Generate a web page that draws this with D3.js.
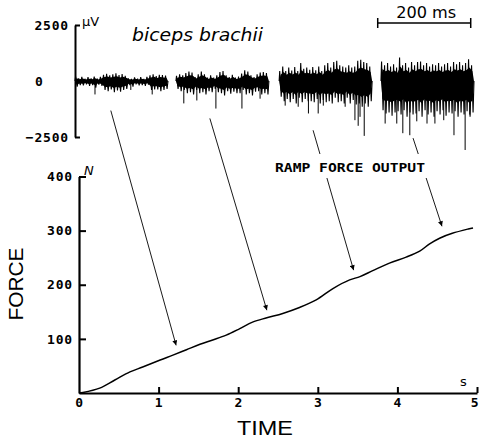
<!DOCTYPE html>
<html><head><meta charset="utf-8">
<script src="https://cdn.jsdelivr.net/npm/d3@7/dist/d3.min.js"></script>
<style>
html,body{margin:0;padding:0;background:#fff;}
svg{display:block;}
.tick text{font-family:"DejaVu Sans Mono",monospace;font-weight:bold;font-size:13px;letter-spacing:0.8px;fill:#000;}
</style></head>
<body>
<svg id="c" width="479" height="441"></svg>
<script>
// ---------------- DATA ----------------
// Force ramp (time in s, force in N)
const forceTime  = [0, 0.05, 0.26, 0.45, 0.64, 0.80, 1.02, 1.18, 1.35, 1.52, 1.68, 1.85, 2.02, 2.18, 2.36, 2.56, 2.77, 2.98, 3.19, 3.40, 3.53, 3.69, 3.90, 4.11, 4.28, 4.40, 4.53, 4.69, 4.89, 4.95];
const forceValue = [0, 1, 9, 24, 39, 48, 61, 70, 80, 90, 98, 107, 119, 131, 139, 147, 158, 172, 193, 209, 215, 226, 240, 251, 262, 275, 286, 295, 303, 305];
const forceTicksY = [100, 200, 300, 400];
const timeTicks = [0, 1, 2, 3, 4, 5];
const emgTicks = [-2500, 0, 2500];

// EMG segments (200 ms each): start in display ms, peak envelope per bin (µV), plus isolated spikes (ms in segment, µV)
const emgSegStart = [0, 217, 439, 658];
const emgSeg1Hi = [200,120,180,100,170,120,200,110,180,280,320,250,300,340,260,310,230,120,100,160,110,170,100,180,250,300,220,280,260,240];
const emgSeg1Lo = [-250,-180,-200,-150,-220,-180,-300,-160,-220,-400,-450,-380,-500,-420,-480,-400,-350,-180,-250,-150,-200,-180,-220,-160,-400,-380,-380,-450,-400,-350];
const emgSeg1SpikeMs = [43, 120, 166];
const emgSeg1SpikeUv = [-600, -400, -600];
const emgSeg2Hi = [230,300,250,350,420,380,180,300,420,300,150,250,150,250,400,450,250,180,280,150,200,330,480,420,250,180,300,380,400,350];
const emgSeg2Lo = [-350,-450,-400,-550,-500,-600,-400,-550,-500,-600,-450,-500,-350,-500,-550,-650,-450,-570,-480,-550,-550,-400,-600,-550,-650,-480,-450,-600,-550,-600];
const emgSeg2SpikeMs = [17, 45, 86, 142, 181];
const emgSeg2SpikeUv = [-1000, -870, -1230, -1230, -790];
const emgSeg3Hi = [450,650,450,600,470,620,450,800,550,600,500,620,480,650,450,700,800,600,850,900,700,650,600,700,600,650,900,950,850,800,650];
const emgSeg3Lo = [-700,-900,-800,-950,-800,-1000,-750,-950,-800,-900,-900,-950,-800,-1000,-850,-950,-900,-1000,-750,-950,-900,-1000,-750,-1000,-850,-1050,-1000,-1150,-1000,-1150,-900];
const emgSeg3SpikeMs = [13, 41, 63, 84, 95, 142, 163, 170, 174, 183];
const emgSeg3SpikeUv = [-1100, -1150, -1450, -1450, -1100, -1150, -1750, -2000, -1600, -2450];
const emgSeg4Hi = [870,700,800,650,750,600,1050,700,800,600,850,700,850,870,700,800,650,750,700,800,650,750,800,650,850,750,850,700,800,970,700];
const emgSeg4Lo = [-1300,-1450,-1400,-1550,-1400,-1350,-1500,-1300,-1600,-1400,-1500,-1450,-1350,-1600,-1300,-1500,-1400,-1600,-1350,-1500,-1300,-1550,-1400,-1450,-1350,-1600,-1400,-1500,-1350,-1600,-1400];
const emgSeg4SpikeMs = [9, 34, 47, 62, 77, 99, 116, 135, 157, 181, 191];
const emgSeg4SpikeUv = [-1900, -1900, -2330, -2420, -1800, -1900, -1900, -1750, -2420, -3080, -1500];
const emgSegments = [
  [emgSeg1Hi, emgSeg1Lo, emgSeg1SpikeMs, emgSeg1SpikeUv],
  [emgSeg2Hi, emgSeg2Lo, emgSeg2SpikeMs, emgSeg2SpikeUv],
  [emgSeg3Hi, emgSeg3Lo, emgSeg3SpikeMs, emgSeg3SpikeUv],
  [emgSeg4Hi, emgSeg4Lo, emgSeg4SpikeMs, emgSeg4SpikeUv]];
const scaleBarMs = [651, 851];

// Arrow annotations: start on EMG (display ms, µV), end on force plot (s, N)
const arrowStartMs = [77, 290, 512, 727];
const arrowStartUv = [-1320, -1670, -2200, -2550];
const arrowEndT = [1.22, 2.36, 3.45, 4.56];
const arrowEndF = [88, 153, 227, 308];

// ---------------- DRAW ----------------
const svg = d3.select("#c");
const x = d3.scaleLinear().domain([0, 5]).range([79, 477]);
const y = d3.scaleLinear().domain([0, 400]).range([393, 176.5]);
const ex = d3.scaleLinear().domain([0, 860]).range([75, 75 + 860 * 0.465]);
const ey = d3.scaleLinear().domain([-2500, 2500]).range([137, 25]);
// inner (dense) band of the trace is drawn on a compressed copy of the EMG scale
const eyCore = d3.scaleLinear().domain([-2500, 2500]).range([ey(-2500 * 0.62), ey(2500 * 0.62)]);

svg.append("defs").append("marker")
  .attr("id","ah").attr("viewBox","0 0 10 10").attr("refX",10).attr("refY",5)
  .attr("markerWidth",7).attr("markerHeight",5).attr("markerUnits","userSpaceOnUse")
  .attr("orient","auto")
  .append("path").attr("d","M0,0L10,5L0,10Z").attr("fill","#000");

// EMG traces
emgSegments.forEach(([hi, lo, spMs, spUv], s) => {
  const n = hi.length, w = 200 / n, st = emgSegStart[s];
  const pts = hi.map((h, i) => ({t: st + (i + 0.5) * w, h, l: lo[i]}));
  pts.unshift({t: st, h: 0, l: 0});
  pts.push({t: st + 200, h: 0, l: 0});
  svg.append("path")
    .attr("d", d3.area().x(d => ex(d.t)).y0(d => eyCore(d.l)).y1(d => eyCore(d.h))(pts))
    .attr("fill","#000");
  const zz = [[st, 0]];
  hi.forEach((h, i) => { zz.push([st + i * w + w * 0.2, h]); zz.push([st + i * w + w * 0.7, lo[i]]); });
  zz.push([st + 200, 0]);
  svg.append("path")
    .attr("d", d3.line().x(d => ex(d[0])).y(d => ey(d[1]))(zz))
    .attr("fill","none").attr("stroke","#000").attr("stroke-width",1.1);
  spMs.forEach((m, i) => {
    svg.append("line").attr("x1", ex(st + m)).attr("x2", ex(st + m))
      .attr("y1", ey(0)).attr("y2", ey(spUv[i]))
      .attr("stroke","#000").attr("stroke-width",1);
  });
});

// EMG axis
const ga = svg.append("g").attr("transform",`translate(${ex(0)},0)`)
  .call(d3.axisLeft(ey).tickValues(emgTicks).tickSize(-5).tickSizeOuter(0).tickPadding(6)
    .tickFormat(d3.format("d")));
ga.select(".domain").attr("stroke-width",2);
ga.selectAll(".tick line").attr("stroke-width",2);
ga.selectAll(".tick").filter(d => d === 0).select("text").attr("text-anchor","start").attr("x",-40);
ga.selectAll(".tick").filter(d => d === 0).select("line").remove();
svg.append("text").attr("x",82).attr("y",26).attr("font-family","DejaVu Sans").attr("font-size",13).text("μV");

// Title
svg.append("text").attr("x",132).attr("y",41).attr("font-family","DejaVu Sans").attr("font-style","italic")
  .attr("font-size",17).attr("textLength",131).attr("lengthAdjust","spacingAndGlyphs").text("biceps brachii");

// Scale bar
const sb = svg.append("g").attr("stroke","#000").attr("stroke-width",1.5);
sb.append("line").attr("x1",ex(scaleBarMs[0])).attr("x2",ex(scaleBarMs[1])).attr("y1",23).attr("y2",23);
scaleBarMs.forEach(m => sb.append("line").attr("x1",ex(m)).attr("x2",ex(m)).attr("y1",18).attr("y2",28));
svg.append("text").attr("x",(ex(scaleBarMs[0])+ex(scaleBarMs[1]))/2+2).attr("y",18).attr("text-anchor","middle")
  .attr("font-family","DejaVu Sans").attr("font-size",16).attr("textLength",60).attr("lengthAdjust","spacingAndGlyphs").text("200 ms");

// Arrows
arrowStartMs.forEach((m, i) => {
  svg.append("line").attr("x1",ex(m)).attr("y1",ey(arrowStartUv[i]))
    .attr("x2",x(arrowEndT[i])).attr("y2",y(arrowEndF[i]))
    .attr("stroke","#000").attr("stroke-width",0.9).attr("marker-end","url(#ah)");
});

// Annotation label with blank background
svg.append("rect").attr("x",270).attr("y",154).attr("width",162).attr("height",24).attr("fill","#fff");
svg.append("text").attr("x",275).attr("y",172).attr("font-family","DejaVu Sans Mono").attr("font-weight","bold")
  .attr("font-size",12).attr("textLength",150).attr("lengthAdjust","spacingAndGlyphs").text("RAMP FORCE OUTPUT");

// Force curve
svg.append("path")
  .attr("d", d3.line().x((d,i) => x(forceTime[i])).y((d,i) => y(forceValue[i])).curve(d3.curveCatmullRom)(forceValue))
  .attr("fill","none").attr("stroke","#000").attr("stroke-width",1.5);

// Force axes
const gy = svg.append("g").attr("transform",`translate(${x(0)},0)`)
  .call(d3.axisLeft(y).tickValues(forceTicksY).tickSize(-7).tickSizeOuter(0).tickPadding(6).tickFormat(d3.format("d")));
gy.select(".domain").attr("stroke-width",2.2);
gy.selectAll(".tick line").attr("stroke-width",2);
const gx = svg.append("g").attr("transform",`translate(0,${y(0)})`)
  .call(d3.axisBottom(x).tickValues(timeTicks).tickSize(-6).tickSizeOuter(0).tickPadding(5).tickFormat(d3.format("d")));
gx.select(".domain").attr("stroke-width",2.2);
gx.selectAll(".tick line").attr("stroke-width",2);
gx.selectAll(".tick").filter(d => d === 0).select("line").remove();
gx.selectAll(".tick").filter(d => d === 5).select("text").attr("text-anchor","end").attr("x",2);

svg.append("text").attr("x",84).attr("y",175).attr("font-family","DejaVu Sans").attr("font-style","italic").attr("font-size",13).text("N");
svg.append("text").attr("x",460).attr("y",386).attr("font-family","DejaVu Sans").attr("font-size",13).text("s");

// Axis titles
svg.append("text").attr("transform","translate(23,284) rotate(-90)").attr("text-anchor","middle")
  .attr("font-family","Liberation Sans").attr("font-size",21).attr("textLength",73).attr("lengthAdjust","spacingAndGlyphs").text("FORCE");
svg.append("text").attr("x",265).attr("y",435).attr("text-anchor","middle")
  .attr("font-family","Liberation Sans").attr("font-size",21).attr("textLength",56).attr("lengthAdjust","spacingAndGlyphs").text("TIME");
</script>
</body></html>
